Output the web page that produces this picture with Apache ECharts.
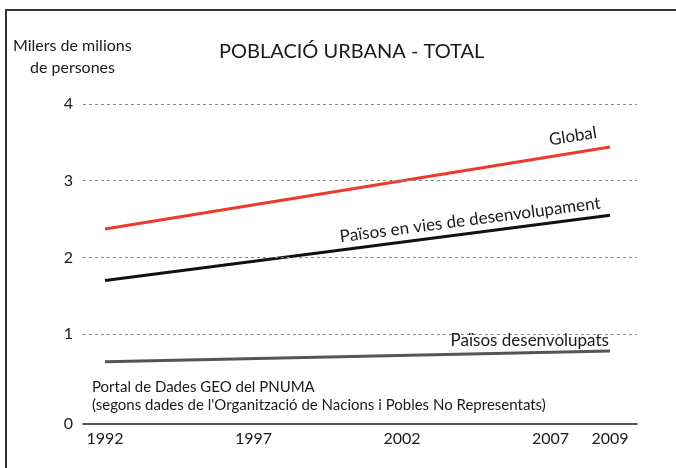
<!DOCTYPE html>
<html><head><meta charset="utf-8">
<script src="https://cdn.jsdelivr.net/npm/echarts@6/dist/echarts.min.js"></script>
<style>html,body{margin:0;padding:0;background:#fff}#c{width:676px;height:468px}</style>
</head><body><div id="c"></div>
<script>
// Data (billions of urban population)
const years = [1992, 2009];
const tickYears = [1992, 1997, 2002, 2007, 2009];
const yTicks = [1, 2, 3, 4];
const globalVals = [2.37, 3.44];
const developingVals = [1.70, 2.55];
const developedVals = [0.64, 0.78];
const seriesNames = ['Global', 'Països en vies de desenvolupament', 'Països desenvolupats'];
const titleText = 'POBLACIÓ URBANA - TOTAL';
const yNameLines = ['Milers de milions', 'de persones'];
const sourceLines = ['Portal de Dades GEO del PNUMA', "(segons dades de l'Organització de Nacions i Pobles No Representats)"];

const Y_MIN = -0.17, Y_MAX = 4;
const X_MIN = 1991.26, X_MAX = 2009.91;
const FONT = 'Lato, "Open Sans", sans-serif';

function pairs(vals) { return years.map((y, i) => [y, vals[i]]); }

const chart = echarts.init(document.getElementById('c'));
chart.setOption({
  animation: false,
  backgroundColor: '#fff',
  textStyle: { fontFamily: FONT },
  title: {
    text: titleText, left: 214, top: 37,
    textStyle: { fontFamily: FONT, fontSize: 20, fontWeight: 'normal', color: '#1a1a1a' }
  },
  grid: { left: 83, right: 39, top: 104, bottom: 44, containLabel: false },
  xAxis: {
    type: 'value', min: X_MIN, max: X_MAX,
    axisLine: { show: true, onZero: false, lineStyle: { color: '#1a1a1a', width: 1.5 } },
    axisTick: { show: false },
    splitLine: { show: false },
    axisLabel: {
      customValues: tickYears, formatter: v => String(v),
      fontFamily: FONT, fontSize: 16, color: '#1a1a1a', margin: 7
    }
  },
  yAxis: {
    type: 'value', min: Y_MIN, max: Y_MAX,
    axisLine: { show: false }, axisTick: { show: false },
    splitLine: { show: false },
    axisLabel: {
      customValues: [Y_MIN].concat(yTicks),
      formatter: v => (v < 0 ? '0' : String(v)),
      fontFamily: FONT, fontSize: 16, color: '#1a1a1a', margin: 10
    }
  },
  series: [
    {
      name: seriesNames[0], type: 'line', data: pairs(globalVals), symbol: 'none',
      lineStyle: { color: '#ee3a2c', width: 3 }, z: 3,
      markLine: {
        silent: true, symbol: 'none', label: { show: false },
        lineStyle: { color: '#8a8a8a', type: [3, 3], width: 1 },
        data: yTicks.map(v => ({ yAxis: v }))
      },
      markPoint: {
        symbol: 'circle', symbolSize: 0,
        label: { show: true, position: 'inside', formatter: seriesNames[0], rotate: 9, fontFamily: FONT, fontSize: 17, color: '#1a1a1a' },
        data: [{ coord: [2007.75, 3.58] }]
      }
    },
    {
      name: seriesNames[1], type: 'line', data: pairs(developingVals), symbol: 'none',
      lineStyle: { color: '#111', width: 3 }, z: 3,
      markPoint: {
        symbol: 'circle', symbolSize: 0,
        label: { show: true, position: 'inside', formatter: seriesNames[1], rotate: 7.4, fontFamily: FONT, fontSize: 17, color: '#1a1a1a' },
        data: [{ coord: [2004.29, 2.49] }]
      }
    },
    {
      name: seriesNames[2], type: 'line', data: pairs(developedVals), symbol: 'none',
      lineStyle: { color: '#555', width: 3 }, z: 3,
      markPoint: {
        symbol: 'circle', symbolSize: 0,
        label: { show: true, position: 'inside', formatter: seriesNames[2], rotate: 0, fontFamily: FONT, fontSize: 17, color: '#1a1a1a' },
        data: [{ coord: [2006.3, 0.913] }]
      }
    }
  ],
  graphic: [
    { type: 'polyline', silent: true, shape: { points: [[6, 468], [6, 10], [676, 10]] }, style: { stroke: '#333', lineWidth: 2, fill: null } },
    { type: 'text', left: 13, top: 38, style: { text: yNameLines[0], font: '16px ' + FONT, fill: '#1a1a1a' } },
    { type: 'text', left: 30, top: 60, style: { text: yNameLines[1], font: '16px ' + FONT, fill: '#1a1a1a' } },
    { type: 'text', left: 92, top: 380, style: { text: sourceLines[0], font: '15px ' + FONT, fill: '#1a1a1a' } },
    { type: 'text', left: 92, top: 398, style: { text: sourceLines[1], font: '15px ' + FONT, fill: '#1a1a1a' } }
  ]
});
</script></body></html>
